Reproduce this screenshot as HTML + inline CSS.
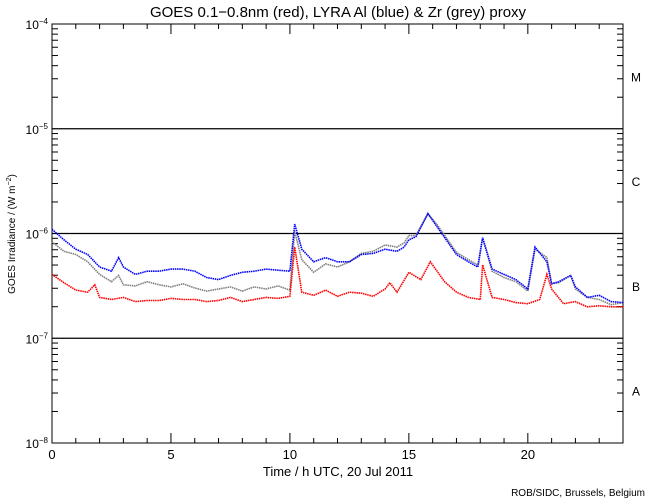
<!DOCTYPE html>
<html><head><meta charset="utf-8"><style>
body{margin:0;background:#fff}
svg{display:block;font-family:"Liberation Sans",sans-serif}
</style></head><body>
<svg id="chart" width="650" height="500">
<text x="338" y="17" font-size="15" text-anchor="middle">GOES 0.1−0.8nm (red), LYRA Al (blue) &amp; Zr (grey) proxy</text>
<text transform="translate(15,234) rotate(-90)" font-size="10" text-anchor="middle">GOES Irradiance / (W m<tspan dy="-4" font-size="7">−2</tspan><tspan dy="4">)</tspan></text>
<text x="338" y="476" font-size="13" text-anchor="middle">Time / h UTC, 20 Jul 2011</text>
<text x="645" y="496" font-size="10" text-anchor="end">ROB/SIDC, Brussels, Belgium</text>
<g id="axes"></g>
<g id="series"></g>
</svg>
<script>
const xTicks=[0,5,10,15,20];
const yDecades=[-4,-5,-6,-7,-8];
const flareClasses=["M","C","B","A"];
const flareClassLogs=[-4.5,-5.5,-6.5,-7.5];
// red GOES
const redT=[0,0.5,1,1.5,1.8,2,2.5,3,3.5,4,4.5,5,5.5,6,6.5,7,7.5,8,8.5,9,9.5,10,10.2,10.5,11,11.5,12,12.5,13,13.5,14,14.2,14.5,15,15.5,15.9,16.5,17,17.5,18,18.1,18.5,19,19.5,20,20.5,20.8,21,21.5,22,22.5,23,23.5,24];
const redLog=[-6.39,-6.47,-6.54,-6.56,-6.49,-6.61,-6.63,-6.61,-6.65,-6.64,-6.64,-6.62,-6.63,-6.63,-6.65,-6.64,-6.61,-6.65,-6.63,-6.61,-6.62,-6.60,-6.13,-6.56,-6.59,-6.54,-6.60,-6.56,-6.57,-6.60,-6.53,-6.47,-6.56,-6.37,-6.44,-6.27,-6.46,-6.56,-6.61,-6.63,-6.30,-6.61,-6.63,-6.66,-6.67,-6.63,-6.39,-6.53,-6.67,-6.65,-6.70,-6.69,-6.70,-6.70];
const blueT=[0,0.5,1,1.5,2,2.5,2.8,3,3.5,4,4.5,5,5.5,6,6.5,7,7.5,8,8.5,9,9.5,10,10.2,10.5,11,11.5,12,12.5,13,13.5,14,14.5,14.8,15,15.3,15.8,16.2,17,17.5,17.9,18.1,18.5,19,19.5,20,20.3,20.8,21,21.3,21.8,22,22.5,23,23.5,24];
const blueLog=[-5.96,-6.06,-6.15,-6.20,-6.32,-6.36,-6.23,-6.32,-6.39,-6.36,-6.36,-6.34,-6.34,-6.36,-6.42,-6.44,-6.40,-6.37,-6.36,-6.34,-6.35,-6.36,-5.91,-6.15,-6.27,-6.23,-6.27,-6.27,-6.20,-6.19,-6.15,-6.17,-6.13,-6.06,-6.03,-5.81,-5.94,-6.20,-6.27,-6.32,-6.04,-6.34,-6.39,-6.44,-6.53,-6.13,-6.27,-6.48,-6.46,-6.40,-6.51,-6.61,-6.59,-6.65,-6.66];
const greyT=blueT;
const greyLog=[-6.08,-6.17,-6.20,-6.27,-6.39,-6.46,-6.40,-6.49,-6.50,-6.46,-6.49,-6.51,-6.48,-6.52,-6.55,-6.53,-6.51,-6.55,-6.51,-6.53,-6.50,-6.54,-5.98,-6.25,-6.37,-6.29,-6.32,-6.27,-6.19,-6.17,-6.11,-6.13,-6.09,-6.02,-6.02,-5.81,-5.92,-6.18,-6.25,-6.30,-6.04,-6.36,-6.42,-6.46,-6.55,-6.15,-6.23,-6.48,-6.47,-6.40,-6.53,-6.61,-6.63,-6.68,-6.66];

const NS='http://www.w3.org/2000/svg';
const L=52,R=623,T=24,B=443;
const xs=t=>L+(R-L)*t/24;
const ys=lg=>T+(-4-lg)*(B-T)/4;
const ax=document.getElementById('axes');
function mk(tag,attrs,parent){const e=document.createElementNS(NS,tag);for(const k in attrs)e.setAttribute(k,attrs[k]);parent.appendChild(e);return e;}
const frame=mk('rect',{x:L,y:T,width:R-L,height:B-T,fill:'none',stroke:'#000','stroke-width':1},ax);


yDecades.forEach(d=>{
  const y=ys(d);
  if(d<-4&&d>-8){const gl=mk('line',{x1:L,x2:R,y1:y,y2:y,stroke:'#000','stroke-width':1.2},ax);
  
  }
  const tx=mk('text',{x:L-4,y:y+5,'font-size':12,'text-anchor':'end'},ax);
  
  
  tx.innerHTML='10<tspan dy="-5" font-size="8">'+String(d).replace('-','−')+'</tspan>';
  if(d>-8){for(let m=2;m<=9;m++){const yy=ys(d-1+Math.log10(m));
    mk('line',{x1:L,x2:L+6,y1:yy,y2:yy,stroke:'#000'},ax);
    mk('line',{x1:R-6,x2:R,y1:yy,y2:yy,stroke:'#000'},ax);}}
});
for(let h=0;h<=24;h++){const x=xs(h);const len=h%5===0?10:5;
  mk('line',{x1:x,x2:x,y1:B,y2:B-len,stroke:'#000'},ax);
  mk('line',{x1:x,x2:x,y1:T,y2:T+len,stroke:'#000'},ax);}
xTicks.forEach(t=>{const tx=mk('text',{x:xs(t),y:459,'font-size':13,'text-anchor':'middle'},ax);
  
  
  tx.textContent=t;});
flareClasses.forEach((c,i)=>{const tx=mk('text',{x:636,y:ys(flareClassLogs[i])+5,'font-size':12,'text-anchor':'middle'},ax);
  
  
  tx.textContent=c;});
const sg=document.getElementById('series');
function draw(ts,vals,color,name){
  const pts=ts.map((t,i)=>xs(t).toFixed(1)+','+ys(vals[i]).toFixed(1)).join(' ');
  const p=mk('polyline',{points:pts,fill:'none',stroke:color,'stroke-width':1.6,'stroke-dasharray':'1.5 0.7'},sg);
  
  
}
draw(greyT,greyLog,'#808080','zr-grey-series');
draw(blueT,blueLog,'#0000ff','al-blue-series');
draw(redT,redLog,'#ff0000','goes-red-series');
</script>
</body></html>
